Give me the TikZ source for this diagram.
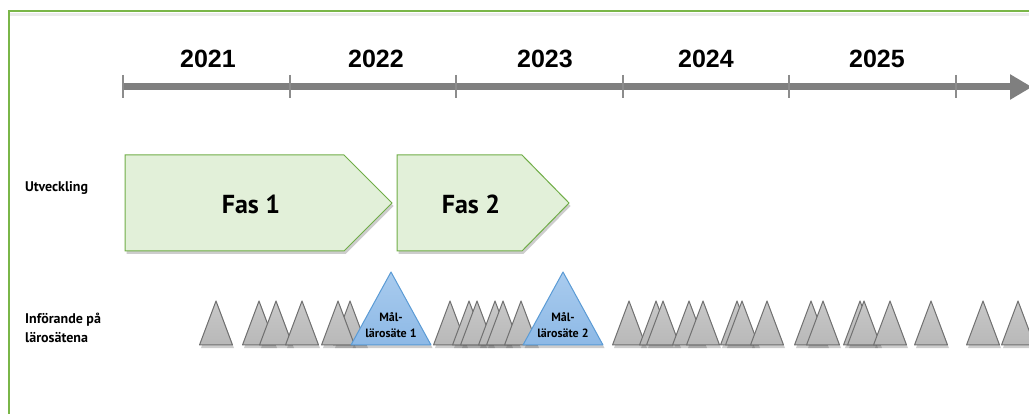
\documentclass[tikz,border=0pt]{standalone}
\usepackage{fontspec}
\setmainfont{PT Sans}
\newfontfamily\yearfont{Liberation Sans}
\usetikzlibrary{arrows.meta,shadows}
\definecolor{framegreen}{HTML}{7AB648}
\definecolor{axisgray}{HTML}{7F7F7F}
\definecolor{tickgray}{HTML}{8C8C8C}
\definecolor{fasfill}{HTML}{E2F0D9}
\definecolor{fasline}{HTML}{70AD47}
\definecolor{trifill}{HTML}{C8C8C8}
\definecolor{trifilldark}{HTML}{B8B8B8}
\definecolor{triline}{HTML}{707070}
\definecolor{bluefill}{HTML}{A9CBEE}
\definecolor{bluefilldark}{HTML}{8DB9E6}
\definecolor{blueline}{HTML}{5B9BD5}
\tikzset{
  shad/.style={drop shadow={shadow xshift=1.5pt,shadow yshift=-3pt,opacity=0.28,fill=black!70}},
  fasbox/.style={fill=fasfill,draw=fasline,line width=1pt,shad},
  graytri/.style={top color=trifill,bottom color=trifilldark,draw=triline,line width=1pt,line join=round,shad},
  bluetri/.style={top color=bluefill,bottom color=bluefilldark,draw=blueline,line width=1pt,line join=round,shad},
  yearlbl/.style={font=\yearfont\bfseries\fontsize{25}{30}\selectfont},
  faslbl/.style={font=\bfseries\fontsize{26}{31}\selectfont},
  rowlbl/.style={font=\bfseries\fontsize{14}{19}\selectfont,anchor=west,align=left,inner sep=0},
  mallbl/.style={font=\bfseries\fontsize{12}{16}\selectfont,align=center,inner sep=0},
  tick/.style={tickgray,line width=2pt}
}
\begin{document}
\begin{tikzpicture}[x=1pt,y=-1pt]
\useasboundingbox (0,0) rectangle (1029,414);
\clip (0,0) rectangle (1029,414);
% frame
\fill[black,opacity=0.08] (10,13) rectangle (1040,16);
\draw[framegreen,line width=2pt] (9,430) -- (9,11) -- (1040,11);
% timeline
\coordinate (tl0) at (123,87);
\coordinate (tlend) at (1032,87);
\draw[axisgray,line width=7pt,-{Triangle[length=22pt,width=24pt]}] (tl0) -- (tlend);
\foreach \k in {0,...,5}{
  \draw[tick] (123+166.6*\k,75) -- (123+166.6*\k,98);
}
\node[yearlbl] (y2021) at (208,59) {2021};
\node[yearlbl] (y2022) at (376,59) {2022};
\node[yearlbl] (y2023) at (545,59) {2023};
\node[yearlbl] (y2024) at (706,59) {2024};
\node[yearlbl] (y2025) at (877,59) {2025};
% phases
\path[fasbox] (125,155) -- (344,155) -- (392,203) -- (344,251) -- (125,251) -- cycle;
\path[fasbox] (397,155) -- (522,155) -- (569,203) -- (522,251) -- (397,251) -- cycle;
\node[faslbl] (fas1) at (251,204) {Fas 1};
\node[faslbl] (fas2) at (471,204) {Fas 2};
% row labels
\node[rowlbl] (utv) at (25,188) {Utveckling};
\node[rowlbl] (inf) at (25,328) {Införande på\\lärosätena};
% triangles
\foreach \x in {216,259,276,302,350,338,450,469,477,495,503,521}{
  \path[graytri] (\x,301) -- (\x+16.5,345) -- (\x-16.5,345) -- cycle;
}
\path[bluetri] (391,272) -- (431,345) -- (351,345) -- cycle;
\path[bluetri] (563,272) -- (603,345) -- (523,345) -- cycle;
\foreach \x in {629,656,663,689,703,737,742,767,811,823,860,864,890,931,983,1018}{
  \path[graytri] (\x,301) -- (\x+16.5,345) -- (\x-16.5,345) -- cycle;
}
\node[mallbl] (mal1) at (391,325) {Mål-\\lärosäte 1};
\node[mallbl] (mal2) at (563,325) {Mål-\\lärosäte 2};
\end{tikzpicture}
\end{document}
